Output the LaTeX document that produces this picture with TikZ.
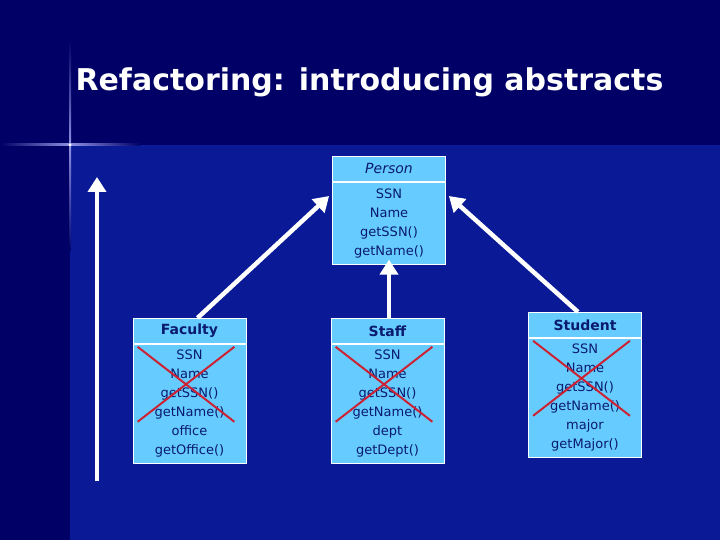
\documentclass[tikz,border=0pt]{standalone}
\usepackage{fontspec}
\setmainfont{DejaVu Sans}
\usetikzlibrary{arrows.meta}
\definecolor{bgA}{HTML}{000066}
\definecolor{bgB}{HTML}{0A1A96}
\definecolor{boxc}{HTML}{66CCFF}
\definecolor{txt}{HTML}{0A1A6E}
\definecolor{xred}{HTML}{CC2233}
\begin{document}
\begin{tikzpicture}[x=1pt,y=-1pt,
  cls/.style={draw=white,line width=0.8pt,fill=boxc,text=txt,minimum width=113pt,text width=111pt,align=center,font=\fontsize{13}{19}\selectfont,inner sep=1pt,anchor=north},
  hdr/.style={cls,minimum height=25pt,font=\fontsize{14}{16}\selectfont},
  inh/.style={white,line width=4.5pt,-{Triangle[length=15pt,width=18pt]}},
  cross/.style={xred,line width=2pt}]
\useasboundingbox (0,0) rectangle (720,540);
\fill[bgA] (0,0) rectangle (720,540);
\fill[bgB] (70,145) rectangle (720,540);
\shade[left color=bgA,right color=bgA,middle color=white!70!blue,opacity=0.8] (0,144) rectangle (140,146);
\shade[top color=bgA,bottom color=bgA,middle color=white!70!blue,opacity=0.8] (69,40) rectangle (71,250);
\fill[white] (70,145) circle (1.5);
\node[white,font=\bfseries\fontsize{30}{34}\selectfont,anchor=west] (title) at (72,82) {Refactoring: introducing abstracts};
% Person
\node[hdr] (ph) at (389,156) {\itshape Person};
\node[cls,minimum height=82pt,anchor=north] (pb) at (ph.south) {SSN\\Name\\getSSN()\\getName()};
% Faculty
\node[hdr] (fh) at (189.5,318) {\bfseries Faculty};
\node[cls,minimum height=119pt,anchor=north] (fb) at (fh.south) {SSN\\Name\\getSSN()\\getName()\\office\\getOffice()};
% Staff
\node[hdr] (sh) at (387.5,318) {\bfseries Staff};
\node[cls,minimum height=119pt,anchor=north] (sb) at (sh.south) {SSN\\Name\\getSSN()\\getName()\\dept\\getDept()};
% Student
\node[hdr] (th) at (585,312) {\bfseries Student};
\node[cls,minimum height=119pt,anchor=north] (tb) at (th.south) {SSN\\Name\\getSSN()\\getName()\\major\\getMajor()};
% crosses
\foreach \n in {fb,sb,tb}{
  \draw[cross] ([shift={(5,3)}]\n.north west) -- ([shift={(-12,78)}]\n.north east);
  \draw[cross] ([shift={(5,78)}]\n.north west) -- ([shift={(-12,3)}]\n.north east);
}
% arrows
\coordinate (fa) at ([xshift=8pt]fh.north);
\draw[inh] (fa) -- ([shift={(-3,40)}]ph.north west);
\draw[inh] (sh.north -| pb.south) -- ([yshift=5pt]pb.south);
\coordinate (ta) at ([xshift=-7pt]th.north);
\draw[inh] (ta) -- ([shift={(3,40)}]ph.north east);
\coordinate (l0) at (97,481);
\coordinate (l1) at (97,177);
\draw[inh] (l0) -- (l1);
\end{tikzpicture}
\end{document}
